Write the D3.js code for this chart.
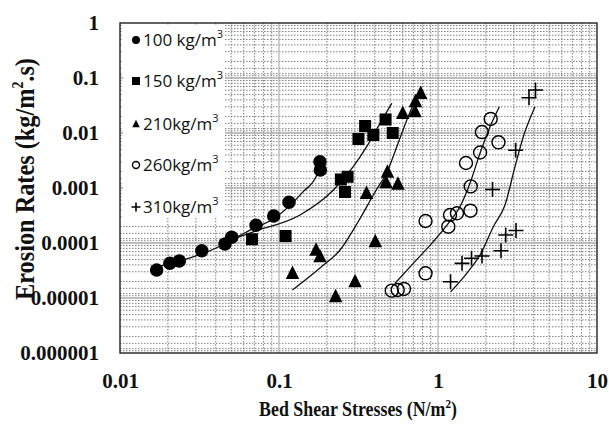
<!DOCTYPE html>
<html>
<head>
<meta charset="utf-8">
<script src="https://cdn.jsdelivr.net/npm/d3@7"></script>
<style>
  body { margin: 0; background: #fff; }
  svg { display: block; }
</style>
</head>
<body>
<svg id="chart"></svg>
<script>
// measured points, bed shear stress (N/m2) vs erosion rate (kg/m2.s)
let c100_x = [0.0170, 0.0206, 0.0236, 0.0327, 0.0457, 0.0504, 0.0717, 0.0926, 0.1156, 0.181, 0.182]
let c100_y = [3.23e-5, 4.27e-5, 4.71e-5, 7.24e-5, 9.59e-5, 1.27e-4, 2.10e-4, 3.10e-4, 5.50e-4, 3.01e-3, 2.12e-3]

let c150_x = [0.0676, 0.110, 0.245, 0.270, 0.260, 0.316, 0.348, 0.392, 0.468, 0.519]
let c150_y = [1.17e-4, 1.34e-4, 1.43e-3, 1.60e-3, 8.46e-4, 7.78e-3, 1.34e-2, 9.2e-3, 1.76e-2, 1.0e-2]

let c210_x = [0.1216, 0.171, 0.181, 0.227, 0.301, 0.355, 0.403, 0.471, 0.481, 0.560, 0.600, 0.717, 0.722, 0.778]
let c210_y = [2.81e-5, 7.46e-5, 5.64e-5, 1.06e-5, 1.98e-5, 8.01e-4, 1.06e-4, 1.25e-3, 1.94e-3, 1.18e-3, 2.28e-2, 2.44e-2, 3.71e-2, 5.27e-2]

let c260_x = [0.512, 0.558, 0.611, 0.835, 0.835, 1.161, 1.19, 1.316, 1.60, 1.606, 1.50, 1.84, 1.888, 2.145, 2.40]
let c260_y = [1.36e-5, 1.40e-5, 1.46e-5, 2.51e-4, 2.81e-5, 1.98e-4, 3.23e-4, 3.47e-4, 3.87e-4, 1.07e-3, 2.85e-3, 4.42e-3, 1.04e-2, 1.80e-2, 6.77e-3]

let c310_x = [1.199, 1.416, 1.625, 1.891, 2.49, 2.666, 3.095, 2.202, 3.08, 3.735, 4.104]
let c310_y = [1.98e-5, 4.27e-5, 5.27e-5, 5.80e-5, 7.24e-5, 1.40e-4, 1.69e-4, 9.39e-4, 4.85e-3, 4.37e-2, 6.05e-2]

// trend curves
let fit100_x = [0.0161, 0.0377, 0.0657, 0.0967, 0.142, 0.173, 0.184]
let fit100_y = [3.51e-5, 7.46e-5, 1.72e-4, 3.01e-4, 8.57e-4, 1.72e-3, 2.85e-3]
let fit150_x = [0.0478, 0.0689, 0.1356, 0.220, 0.293, 0.356, 0.432, 0.512]
let fit150_y = [1.09e-4, 1.60e-4, 3.23e-4, 9.2e-4, 2.44e-3, 5.64e-3, 1.50e-2, 3.47e-2]
let fit210_x = [0.1216, 0.181, 0.242, 0.314, 0.402, 0.478, 0.577, 0.667, 0.738]
let fit210_y = [1.40e-5, 3.51e-5, 7.46e-5, 2.41e-4, 8.46e-4, 1.95e-3, 8.11e-3, 2.41e-2, 4.51e-2]
let fit260_x = [0.537, 0.699, 0.934, 1.161, 1.375, 1.589, 1.837, 2.124, 2.431]
let fit260_y = [1.85e-5, 4.27e-5, 1.06e-4, 2.28e-4, 4.57e-4, 1.22e-3, 4.27e-3, 1.30e-2, 3.01e-2]
let fit310_x = [1.199, 1.516, 1.863, 2.228, 2.639, 3.05, 3.439, 4.076]
let fit310_y = [1.29e-5, 2.81e-5, 6.50e-5, 1.98e-4, 4.91e-4, 2.44e-3, 8.57e-3, 3.01e-2]

let legend_labels = [["100 kg/m", "3"], ["150 kg/m", "3"], ["210kg/m", "3"], ["260kg/m", "3"], ["310kg/m", "3"]]
let x_ticks = [0.01, 0.1, 1, 10]
let x_tick_labels = ["0.01", "0.1", "1", "10"]
let y_ticks = [1, 0.1, 0.01, 0.001, 0.0001, 0.00001, 0.000001]
let y_tick_labels = ["1", "0.1", "0.01", "0.001", "0.0001", "0.00001", "0.000001"]

const width = 609, height = 426
const p_left = 120, p_right = 597, p_top = 23, p_bottom = 353
const serif = '"Liberation Serif", "Times New Roman", serif'

let svg = d3.select('#chart')
    .attr("width", width)
    .attr("height", height)

let x = d3.scaleLog().domain([0.01, 10]).range([p_left, p_right])
let y = d3.scaleLog().domain([1e-6, 1]).range([p_bottom, p_top])

// grid
let grid = svg.append("g")
let xminor = [], yminor = []
for (let d = 0.01; d < 10; d *= 10)
    for (let m = 2; m <= 9; m++) xminor.push(d * m)
for (let d = 1e-6; d < 1; d *= 10)
    for (let m of [1.1, 1.2, 1.5, 2, 3, 4, 5, 6, 7, 8, 9]) yminor.push(d * m)

grid.selectAll(".vx").data(xminor).enter().append("line")
    .attr("x1", d => x(d)).attr("x2", d => x(d))
    .attr("y1", p_top).attr("y2", p_bottom)
    .attr("stroke", "#808080").attr("stroke-width", 1)
    .attr("stroke-dasharray", "1.5,1.5")
grid.selectAll(".hy").data(yminor).enter().append("line")
    .attr("x1", p_left).attr("x2", p_right)
    .attr("y1", d => y(d)).attr("y2", d => y(d))
    .attr("stroke", "#808080").attr("stroke-width", 1)
    .attr("stroke-dasharray", "1.5,1.5")
grid.selectAll(".vmaj").data([0.1, 1]).enter().append("line")
    .attr("x1", d => x(d)).attr("x2", d => x(d))
    .attr("y1", p_top).attr("y2", p_bottom)
    .attr("stroke", "#b8b8b8").attr("stroke-width", 1.3)
grid.selectAll(".hmaj").data(y_ticks.slice(1, -1)).enter().append("line")
    .attr("x1", p_left).attr("x2", p_right)
    .attr("y1", d => y(d)).attr("y2", d => y(d))
    .attr("stroke", "#a8a8a8").attr("stroke-width", 1.3)

// legend background
let legend = svg.append("g")
legend.append("rect")
    .attr("x", p_left + 3).attr("y", p_top + 2)
    .attr("width", 102).attr("height", 193)
    .attr("fill", "#fff")

// frame
svg.append("rect")
    .attr("x", p_left).attr("y", p_top)
    .attr("width", p_right - p_left).attr("height", p_bottom - p_top)
    .attr("fill", "none").attr("stroke", "#222").attr("stroke-width", 1.4)

// axes
let xAxis = svg.append("g")
    .attr("transform", `translate(0,${p_bottom})`)
    .call(d3.axisBottom(x).tickValues(x_ticks).tickSize(0).tickPadding(20)
        .tickFormat((d, i) => x_tick_labels[i]))
let yAxis = svg.append("g")
    .attr("transform", `translate(${p_left},0)`)
    .call(d3.axisLeft(y).tickValues(y_ticks).tickSize(0).tickPadding(21)
        .tickFormat((d, i) => y_tick_labels[i]))
for (let a of [xAxis, yAxis]) {
    a.select(".domain").remove()
    a.selectAll("text")
        .attr("font-family", serif)
        .attr("font-size", 21)
        .attr("font-weight", "bold")
        .attr("fill", "#111")
}

// axis titles, squeezed sideways to the reference length
let fit_width = (t, tr, target) => {
    let w = t.node().getBBox().width
    t.attr("transform", `${tr} scale(${target / w},1)`)
}

let xt = svg.append("text")
    .attr("text-anchor", "middle")
    .attr("font-family", serif).attr("font-size", 21).attr("font-weight", "bold")
    .attr("fill", "#111")
xt.append("tspan").text("Bed Shear Stresses (N/m")
xt.append("tspan").attr("font-size", 13).attr("dy", -8).text("2")
xt.append("tspan").attr("dy", 8).text(")")
fit_width(xt, "translate(358,416)", 198)

let yt = svg.append("text")
    .attr("text-anchor", "middle")
    .attr("font-family", serif).attr("font-size", 28).attr("font-weight", "bold")
    .attr("fill", "#111")
yt.append("tspan").text("Erosion  Rates (kg/m")
yt.append("tspan").attr("font-size", 16).attr("dy", -11).text("2")
yt.append("tspan").attr("dy", 11).text(".s)")
fit_width(yt, "translate(34,179) rotate(-90)", 242)

// trend curves
let fits = [[fit100_x, fit100_y], [fit150_x, fit150_y], [fit210_x, fit210_y], [fit260_x, fit260_y], [fit310_x, fit310_y]]
let line = d3.line().x(d => x(d[0])).y(d => y(d[1])).curve(d3.curveMonotoneX)
svg.append("g")
    .selectAll("path")
    .data(fits)
    .enter()
    .append("path")
    .attr("d", f => line(f[0].map((v, i) => [v, f[1][i]])))
    .attr("fill", "none")
    .attr("stroke", "#111")
    .attr("stroke-width", 1.3)

// markers
let pts = (xs, ys) => xs.map((v, i) => ({ x: v, y: ys[i] }))
let marks = svg.append("g")

let draw_circle = (g, s, open) => g.append("circle").attr("r", s * 0.5)
    .attr("fill", open ? "none" : "#000")
    .attr("stroke", "#000").attr("stroke-width", open ? 1.4 : 0)
let draw_square = (g, s) => g.append("rect").attr("x", -s / 2).attr("y", -s / 2)
    .attr("width", s).attr("height", s).attr("fill", "#000")
let draw_triangle = (g, s) => g.append("path")
    .attr("d", `M0,${-s * 0.58}L${s * 0.5},${s * 0.42}L${-s * 0.5},${s * 0.42}Z`).attr("fill", "#000")
let draw_plus = (g, s) => g.append("path")
    .attr("d", `M${-s / 2},0H${s / 2}M0,${-s / 2}V${s / 2}`)
    .attr("stroke", "#000").attr("stroke-width", 1.6).attr("fill", "none")

let series = [
    { data: pts(c100_x, c100_y), draw: (g, s) => draw_circle(g, s, false), size: 13.5, lsize: 8 },
    { data: pts(c150_x, c150_y), draw: draw_square, size: 12, lsize: 8 },
    { data: pts(c210_x, c210_y), draw: draw_triangle, size: 13.5, lsize: 7.5 },
    { data: pts(c260_x, c260_y), draw: (g, s) => draw_circle(g, s, true), size: 13, lsize: 7 },
    { data: pts(c310_x, c310_y), draw: draw_plus, size: 15, lsize: 9 }
]

series.forEach(s => {
    marks.append("g")
        .selectAll("g")
        .data(s.data)
        .enter()
        .append("g")
        .attr("transform", d => `translate(${x(d.x)},${y(d.y)})`)
        .each(function () { s.draw(d3.select(this), s.size) })
})

// legend entries
let legend_y = [40, 81, 124, 165, 207]
series.forEach((s, i) => {
    let g = legend.append("g").attr("transform", `translate(136,${legend_y[i]})`)
    s.draw(g, s.lsize)
    let t = g.append("text")
        .attr("x", 7).attr("y", 6)
        .attr("font-family", '"Open Sans", "Noto Sans", sans-serif')
        .attr("font-size", 17)
        .attr("fill", "#111")
    t.append("tspan").text(legend_labels[i][0])
    t.append("tspan").attr("font-size", 11).attr("dy", -8).text(legend_labels[i][1])
})
</script>
</body>
</html>
